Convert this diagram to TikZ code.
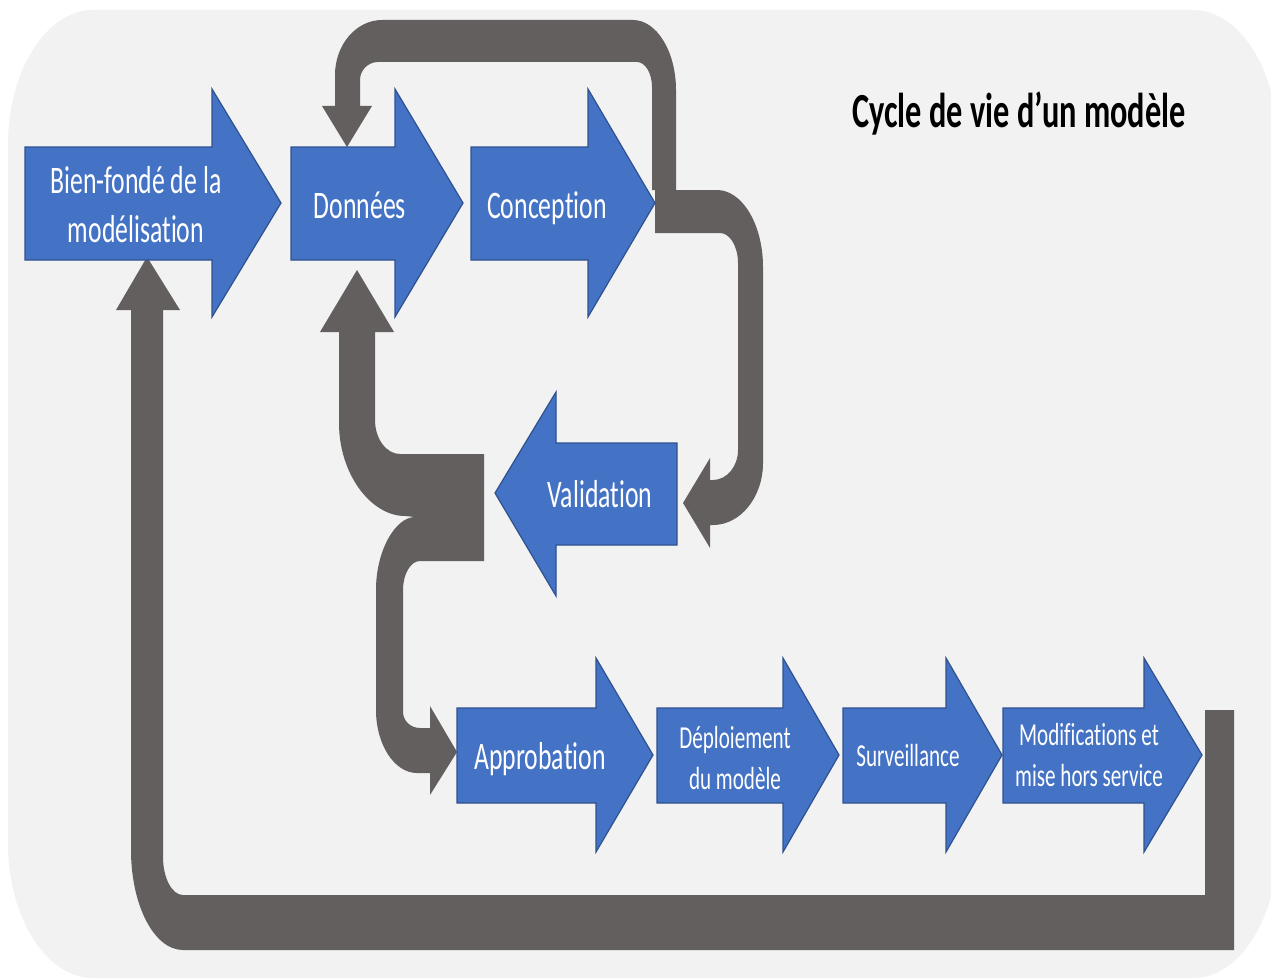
\documentclass[tikz,border=0pt]{standalone}
\usepackage{fontspec}
\newfontfamily\calib[FakeStretch=0.66, Ligatures=NoCommon]{Carlito}
\definecolor{bgray}{RGB}{242,242,242}
\definecolor{lnk}{RGB}{99,95,94}
\definecolor{bfill}{RGB}{68,114,196}
\definecolor{bedge}{RGB}{47,82,143}
\tikzset{
  stepshape/.style={fill=bfill, draw=bedge, line width=1.2pt, line join=miter},
  flow/.style={fill=lnk},
  lbl/.style={text=white, inner sep=0pt, align=center, font={\calib\fontsize{39}{49}\selectfont}},
  lbls/.style={text=white, inner sep=0pt, align=center, font={\calib\fontsize{32}{41}\selectfont}},
}
\begin{document}
\begin{tikzpicture}[x=1pt,y=-1pt]
\useasboundingbox (0,0) rectangle (1271,979);
\fill[white] (0,0) rectangle (1271,979);
% background panel
\fill[bgray] (93,10) -- (1193,10) .. controls (1239.75,10) and (1278,70.75) .. (1278,145)
  -- (1278,843) .. controls (1278,917.25) and (1239.75,978) .. (1193,978)
  -- (93,978) .. controls (46.25,978) and (8,917.25) .. (8,843)
  -- (8,145) .. controls (8,70.75) and (46.25,10) .. (93,10) -- cycle;

% big return loop (Modifications -> Bien-fonde)
\fill[flow] (147,257) -- (180,310) -- (163,310) -- (163,857)
  .. controls (163,878) and (172,895) .. (183,895)
  -- (1205,895) -- (1205,710) -- (1234,710) -- (1234,950) -- (183,950)
  .. controls (154,950) and (131,905) .. (131,850)
  -- (131,310) -- (116,310) -- cycle;

% top loop (Conception -> Donnees)
\fill[flow] (652,190) -- (652,87) .. controls (652,73.25) and (645.25,62) .. (637,62)
  -- (378,62) .. controls (368.1,62) and (360,70.1) .. (360,80)
  -- (360,106) -- (372,106) -- (347,147) -- (322,106) -- (335,106)
  -- (335,75) .. controls (335,44.75) and (356.15,20) .. (382,20)
  -- (633,20) .. controls (656.65,20) and (676,51.5) .. (676,90)
  -- (676,190) -- cycle;

% right loop (Conception -> Validation)
\fill[flow] (655,190) -- (717,190) .. controls (742.3,190) and (763,224.65) .. (763,267)
  -- (763,463) .. controls (763,497.1) and (740.5,525) .. (713,525)
  -- (710,525) -- (710,548) -- (683,503) -- (710,458) -- (710,480) -- (713,480)
  .. controls (726.75,480) and (738,466.5) .. (738,450)
  -- (738,263) .. controls (738,246.5) and (729.9,233) .. (720,233)
  -- (655,233) -- cycle;

% split arrow (Validation -> Donnees / Approbation)
\fill[flow] (357,270) -- (394,332) -- (375,332) -- (375,420)
  .. controls (375,438.7) and (386.25,454) .. (400,454)
  -- (484,454) -- (484,561) -- (420,561)
  .. controls (410.65,561) and (403,574.05) .. (403,590)
  -- (403,712) .. controls (403,720.8) and (410.65,728) .. (420,728)
  -- (430,728) -- (430,706) -- (457,752) -- (430,795) -- (430,773) -- (417,773)
  .. controls (394.45,773) and (376,744.65) .. (376,710)
  -- (376,590) .. controls (376,549.85) and (395.8,517) .. (415,517)
  -- (405,516) .. controls (370.95,516) and (339,474.15) .. (339,423)
  -- (339,332) -- (320,332) -- cycle;

% blue step arrows
\filldraw[stepshape] (25,147) -- (212,147) -- (212,89) -- (281,203) -- (212,317) -- (212,260) -- (25,260) -- cycle;
\filldraw[stepshape] (291,147) -- (395,147) -- (395,89) -- (463,203) -- (395,317) -- (395,260) -- (291,260) -- cycle;
\filldraw[stepshape] (471,147) -- (588,147) -- (588,89) -- (655,203) -- (588,317) -- (588,260) -- (471,260) -- cycle;
\filldraw[stepshape] (677,443) -- (556,443) -- (556,392) -- (495,493) -- (556,596) -- (556,545) -- (677,545) -- cycle;
\filldraw[stepshape] (457,708) -- (596,708) -- (596,658) -- (653,755) -- (596,852) -- (596,803) -- (457,803) -- cycle;
\filldraw[stepshape] (657,708) -- (783,708) -- (783,658) -- (839,755) -- (783,852) -- (783,803) -- (657,803) -- cycle;
\filldraw[stepshape] (843,708) -- (946,708) -- (946,658) -- (1002,755) -- (946,852) -- (946,803) -- (843,803) -- cycle;
\filldraw[stepshape] (1003,708) -- (1144,708) -- (1144,658) -- (1202,755) -- (1144,852) -- (1144,803) -- (1003,803) -- cycle;

% labels
\node[lbl] (bien) at (136,205) {Bien-fondé de la\\modélisation};
\node[lbl, anchor=base] (donnees) at (360,218) {Données};
\node[lbl, anchor=base] (conception) at (547,218) {Conception};
\node[lbl, anchor=base] (validation) at (600,507) {Validation};
\node[lbl, anchor=base] (approbation) at (540,769) {Approbation};
\node[lbls] (deploiement) at (735,758) {Déploiement\\du modèle};
\node[lbls, anchor=base] (surveillance) at (908,766) {Surveillance};
\node[lbls] (modifications) at (1089,755) {Modifications et\\mise hors service};
\node[inner sep=0pt, anchor=base, text=black, font={\calib\bfseries\fontsize{49}{59}\selectfont}] (title) at (1019,128) {Cycle de vie d’un modèle};
\end{tikzpicture}
\end{document}
